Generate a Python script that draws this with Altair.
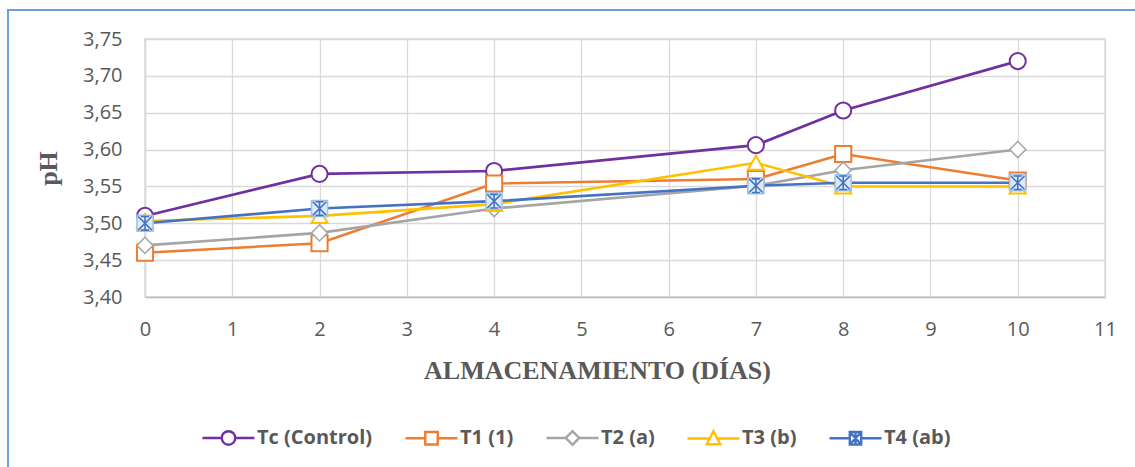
import altair as alt
import pandas as pd

# Storage day at which pH was measured
days = [0, 2, 4, 7, 8, 10]

# Treatments and their pH readings
series_names = ["Tc (Control)", "T1 (1)", "T2 (a)", "T3 (b)", "T4 (ab)"]
ph_tc = [3.510, 3.567, 3.571, 3.606, 3.653, 3.720]
ph_t1 = [3.460, 3.473, 3.554, 3.560, 3.594, 3.558]
ph_t2 = [3.470, 3.487, 3.520, 3.551, 3.572, 3.600]
ph_t3 = [3.503, 3.510, 3.526, 3.582, 3.550, 3.550]
ph_t4 = [3.500, 3.520, 3.530, 3.551, 3.555, 3.555]

series_colors = ["#7030A0", "#ED7D31", "#A5A5A5", "#FFC000", "#4472C4"]

x_ticks = list(range(0, 12))
y_ticks = [3.40, 3.45, 3.50, 3.55, 3.60, 3.65, 3.70, 3.75]

rows = []
for name, values in zip(series_names, [ph_tc, ph_t1, ph_t2, ph_t3, ph_t4]):
    for d, v in zip(days, values):
        rows.append({"serie": name, "dia": d, "ph": v})
df = pd.DataFrame(rows)

TEXT_GRAY = "#595959"
color_scale = alt.Scale(domain=series_names, range=series_colors)

x_enc = alt.X(
    "dia:Q",
    scale=alt.Scale(domain=[0, 11], nice=False, zero=False),
    axis=alt.Axis(
        values=x_ticks,
        title="ALMACENAMIENTO (DÍAS)",
        titleX=452,
        titleY=73,
        titleAlign="center",
        titleBaseline="middle",
        labelBaseline="middle",
        labelFlush=False,
        labelPadding=32,
        tickSize=0,
        ticks=False,
        domainColor="#BFBFBF",
        domainWidth=1.5,
    ),
)
y_enc = alt.Y(
    "ph:Q",
    scale=alt.Scale(domain=[3.40, 3.75], nice=False, zero=False),
    axis=alt.Axis(
        values=y_ticks,
        labelExpr="replace(format(datum.value, '.2f'), '.', ',')",
        title="pH",
        titleX=-97,
        titleY=129,
        titleAlign="center",
        titleBaseline="middle",
        labelFlush=False,
        labelPadding=23,
        tickSize=0,
        ticks=False,
        domainColor="#D9D9D9",
        domainWidth=1.5,
    ),
)

# Markers drawn on the plot for each treatment
marker_shapes = ["circle", "square", "diamond", "triangle-up", "square"]
marker_widths = [2, 2, 1.5, 2, 1.5]
marker_fills = ["white", "white", "white", "white", "#DEEBF7"]
marker_strokes = [None, None, None, None, "#9DC3E6"]
star_path = "M-1,-1L1,1M-1,1L1,-1M0,-1L0,1M-0.6,-1L0.6,-1M-0.6,1L0.6,1"

# Legend symbols: short line through the marker
legend_paths = [
    "M-1,0L-0.26,0M0.26,0L1,0M-0.26,0A0.26,0.26 0 1,0 0.26,0A0.26,0.26 0 1,0 -0.26,0Z",
    "M-1,0L-0.24,0M0.24,0L1,0M-0.24,-0.24L0.24,-0.24L0.24,0.24L-0.24,0.24Z",
    "M-1,0L-0.26,0M0.26,0L1,0M-0.26,0L0,-0.26L0.26,0L0,0.26Z",
    "M-1,0L-0.14,0M0.14,0L1,0M0,-0.28L0.26,0.22L-0.26,0.22Z",
    "M-1,0L-0.22,0M0.22,0L1,0M-0.22,-0.24L0.22,-0.24L0.22,0.24L-0.22,0.24Z"
    "M-0.22,-0.24L0.22,0.24M-0.22,0.24L0.22,-0.24M0,-0.24L0,0.24",
]

frame = (
    alt.Chart(pd.DataFrame({"k": [0]}))
    .mark_rect(fill="transparent", stroke="#6CA0DC", strokeWidth=2)
    .encode(x=alt.value(-137), x2=alt.value(1010), y=alt.value(-29), y2=alt.value(450))
)

series_stroke = alt.Stroke("serie:N", scale=color_scale, legend=alt.Legend(title=None))

layers = [frame]
for i, name in enumerate(series_names):
    sub = alt.Chart(df).transform_filter(alt.datum.serie == name)
    line = sub.mark_line(strokeWidth=2.6).encode(x=x_enc, y=y_enc, stroke=series_stroke)
    point_kwargs = dict(
        shape=marker_shapes[i],
        size=260,
        fill=marker_fills[i],
        strokeWidth=marker_widths[i],
        opacity=1,
        filled=False,
    )
    if marker_strokes[i]:
        pts = sub.mark_point(stroke=marker_strokes[i], **point_kwargs).encode(x=x_enc, y=y_enc)
    else:
        pts = sub.mark_point(**point_kwargs).encode(x=x_enc, y=y_enc, stroke=series_stroke)
    layers += [line, pts]
    if name == "T4 (ab)":
        star = sub.mark_point(
            shape=star_path, size=185, strokeWidth=1.6, opacity=1, filled=False
        ).encode(x=x_enc, y=y_enc, stroke=series_stroke)
        layers.append(star)

# Invisible layer that only carries the legend symbols
legend_layer = alt.Chart(df).mark_point(opacity=0, size=2704, filled=False).encode(
    x=x_enc,
    y=y_enc,
    stroke=series_stroke,
    shape=alt.Shape(
        "serie:N",
        scale=alt.Scale(domain=series_names, range=legend_paths),
        legend=alt.Legend(title=None),
    ),
)
layers.append(legend_layer)

chart = (
    alt.layer(*layers)
    .properties(
        width=960,
        height=258,
        autosize=alt.AutoSizeParams(type="none"),
        padding={"left": 145, "top": 39, "right": 30, "bottom": 170},
        background="white",
    )
    .configure_view(stroke="#D9D9D9", strokeWidth=1.5)
    .configure_axis(
        grid=True,
        gridColor="#D9D9D9",
        gridWidth=1.3,
        labelFont="Open Sans",
        labelFontSize=20,
        labelColor=TEXT_GRAY,
        titleFont="Liberation Serif",
        titleFontSize=26,
        titleFontWeight="bold",
        titleColor=TEXT_GRAY,
    )
    .configure_legend(
        orient="none",
        legendX=56,
        legendY=371,
        direction="horizontal",
        padding=0,
        columnPadding=27,
        labelOffset=1,
        labelLimit=0,
        labelFont="Open Sans",
        labelFontSize=20,
        labelFontWeight="bold",
        labelColor=TEXT_GRAY,
        symbolSize=2704,
        symbolStrokeWidth=2.4,
        symbolFillColor="white",
        symbolOpacity=1,
    )
)

chart.save("out.html", embed_options={"renderer": "svg", "actions": False})
